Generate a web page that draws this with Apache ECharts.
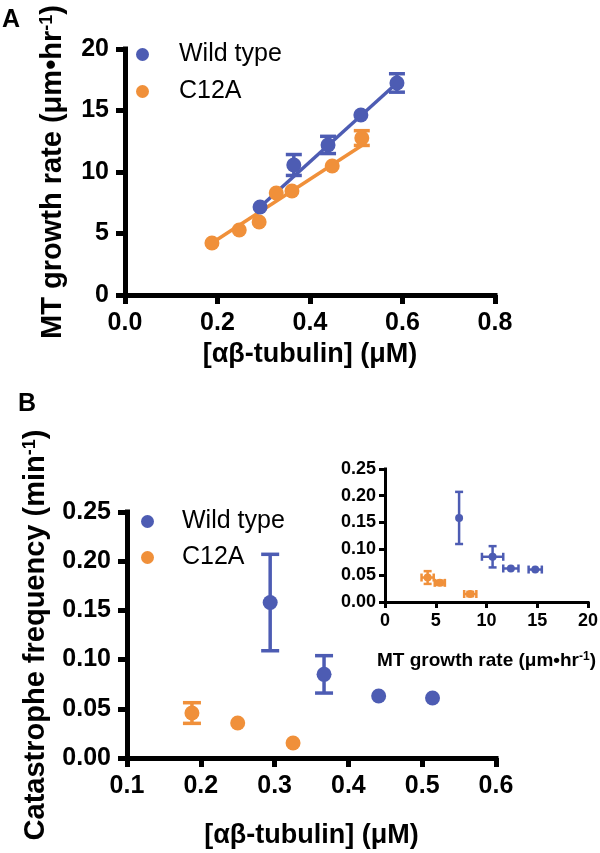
<!DOCTYPE html>
<html><head><meta charset="utf-8">
<script src="https://cdn.jsdelivr.net/npm/echarts@6/dist/echarts.min.js"></script>
<style>html,body{margin:0;padding:0;background:#fff}#c{width:600px;height:853px}</style>
</head><body><div id="c"></div>
<script>
// ---------- Panel A: growth rate vs tubulin ----------
const wtConcA = [0.292, 0.365, 0.439, 0.51, 0.588];
const wtRateA = [7.15, 10.57, 12.2, 14.63, 17.24];
const wtRateErrA = [0, 0.85, 0.7, 0, 0.75];
const c12ConcA = [0.188, 0.247, 0.29, 0.327, 0.361, 0.448, 0.512];
const c12RateA = [4.23, 5.28, 5.93, 8.29, 8.46, 10.49, 12.76];
const c12RateErrA = [0, 0, 0, 0, 0, 0, 0.6];
const wtFitConc = [0.292, 0.588];
const wtFitRate = [7.15, 17.24];
const c12FitConc = [0.188, 0.512];
const c12FitRate = [4.23, 12.15];
const xTicksA = [0, 0.2, 0.4, 0.6, 0.8];
const yTicksA = [0, 5, 10, 15, 20];

// ---------- Panel B: catastrophe frequency vs tubulin ----------
const wtConcB = [0.294, 0.367, 0.441, 0.514];
const wtCatB = [0.158, 0.085, 0.063, 0.061];
const wtCatErrB = [0.049, 0.019, 0, 0];
const c12ConcB = [0.188, 0.25, 0.325];
const c12CatB = [0.0457, 0.0356, 0.0152];
const c12CatErrB = [0.0105, 0, 0];
const xTicksB = [0.1, 0.2, 0.3, 0.4, 0.5, 0.6];
const yTicksB = [0, 0.05, 0.10, 0.15, 0.20, 0.25];

// ---------- Inset: catastrophe frequency vs growth rate ----------
const wtRateIn = [7.3, 10.6, 12.4, 14.8];
const wtRateErrIn = [0, 1.05, 0.75, 0.65];
const wtCatIn = [0.158, 0.085, 0.063, 0.061];
const wtCatErrIn = [0.049, 0.02, 0, 0];
const c12RateIn = [4.2, 5.4, 8.4];
const c12RateErrIn = [0.6, 0.5, 0.6];
const c12CatIn = [0.046, 0.036, 0.015];
const c12CatErrIn = [0.012, 0.004, 0.004];
const xTicksIn = [0, 5, 10, 15, 20];
const yTicksIn = [0, 0.05, 0.10, 0.15, 0.20, 0.25];

const BLUE = '#4d5cb3';
const ORANGE = '#f0903a';
const FONT = '"Liberation Sans", Arial, Helvetica, sans-serif';

function zip(a, b) { return a.map((v, i) => [v, b[i]]); }
function zip4(a, b, c, d) { return a.map((v, i) => [v, b[i], c[i], d[i]]); }
function zeros(a) { return a.map(() => 0); }

function errRender(color, capHalf, lw) {
  return function (params, api) {
    const x = api.value(0), y = api.value(1), ex = api.value(2), ey = api.value(3);
    const st = { stroke: color, lineWidth: lw };
    const ch = [];
    if (ey > 0) {
      const a = api.coord([x, y + ey]), b = api.coord([x, y - ey]);
      ch.push({ type: 'line', shape: { x1: a[0], y1: a[1], x2: b[0], y2: b[1] }, style: st });
      ch.push({ type: 'line', shape: { x1: a[0] - capHalf, y1: a[1], x2: a[0] + capHalf, y2: a[1] }, style: st });
      ch.push({ type: 'line', shape: { x1: b[0] - capHalf, y1: b[1], x2: b[0] + capHalf, y2: b[1] }, style: st });
    }
    if (ex > 0) {
      const a = api.coord([x - ex, y]), b = api.coord([x + ex, y]);
      ch.push({ type: 'line', shape: { x1: a[0], y1: a[1], x2: b[0], y2: b[1] }, style: st });
      ch.push({ type: 'line', shape: { x1: a[0], y1: a[1] - capHalf, x2: a[0], y2: a[1] + capHalf }, style: st });
      ch.push({ type: 'line', shape: { x1: b[0], y1: b[1] - capHalf, x2: b[0], y2: b[1] + capHalf }, style: st });
    }
    return { type: 'group', children: ch };
  };
}

function nameRich(big, small) {
  return {
    color: '#000', fontFamily: FONT, fontSize: big, fontWeight: 'bold',
    rich: {
      t: { fontSize: big, fontWeight: 'bold', color: '#000', fontFamily: FONT, lineHeight: big },
      s: { fontSize: small, fontWeight: 'bold', color: '#000', fontFamily: FONT, verticalAlign: 'top', lineHeight: big }
    }
  };
}

function valAxis(o) {
  const ticks = o.ticks;
  return {
    type: 'value', gridIndex: o.grid,
    min: ticks[0], max: ticks[ticks.length - 1], interval: ticks[1] - ticks[0],
    splitLine: { show: false },
    axisLine: { onZero: false, lineStyle: { color: '#000', width: o.lw, cap: 'square' } },
    axisTick: { length: o.tick, lineStyle: { color: '#000', width: o.lw } },
    axisLabel: {
      color: '#000', fontFamily: FONT, fontWeight: 'bold', fontSize: o.fs, margin: o.margin,
      showMinLabel: true, showMaxLabel: true,
      formatter: v => v.toFixed(o.dec)
    },
    name: o.name, nameLocation: 'middle', nameGap: o.nameGap,
    nameTextStyle: o.nameStyle
  };
}

const option = {
  animation: false,
  backgroundColor: '#fff',
  textStyle: { fontFamily: FONT },
  grid: [
    { left: 125, top: 49, width: 370, height: 246, outerBoundsMode: 'none' },
    { left: 127, top: 512, width: 369, height: 246, outerBoundsMode: 'none' },
    { left: 385, top: 469, width: 203, height: 133, outerBoundsMode: 'none' }
  ],
  xAxis: [
    valAxis({ grid: 0, ticks: xTicksA, lw: 5, tick: 9, fs: 25, margin: 16, dec: 1,
      name: '[αβ-tubulin] (μM)', nameGap: 46, nameStyle: { color: '#000', fontFamily: FONT, fontSize: 27, fontWeight: 'bold', verticalAlign: 'top' } }),
    valAxis({ grid: 1, ticks: xTicksB, lw: 5, tick: 9, fs: 25, margin: 16, dec: 1,
      name: '[αβ-tubulin] (μM)', nameGap: 64, nameStyle: { color: '#000', fontFamily: FONT, fontSize: 27, fontWeight: 'bold', verticalAlign: 'top' } }),
    valAxis({ grid: 2, ticks: xTicksIn, lw: 3, tick: 6, fs: 18, margin: 10, dec: 0,
      name: '{t|MT growth rate (μm•hr}{s|-1}{t|)}', nameGap: 49, nameStyle: nameRich(19, 12) })
  ],
  yAxis: [
    valAxis({ grid: 0, ticks: yTicksA, lw: 5, tick: 9, fs: 25, margin: 16, dec: 0,
      name: '{t|MT growth rate (μm•hr}{s|-1}{t|)}', nameGap: 58, nameStyle: nameRich(29, 18) }),
    valAxis({ grid: 1, ticks: yTicksB, lw: 5, tick: 9, fs: 25, margin: 16, dec: 2,
      name: '{t|Catastrophe frequency (min}{s|-1}{t|)}', nameGap: 77, nameStyle: nameRich(29, 18) }),
    valAxis({ grid: 2, ticks: yTicksIn, lw: 3, tick: 6, fs: 18, margin: 9, dec: 2,
      name: '', nameGap: 0, nameStyle: {} })
  ],
  legend: [
    { data: ['Wild type', 'C12A'], orient: 'vertical', left: 136, top: 42, padding: 0,
      itemWidth: 13, itemHeight: 13, itemGap: 12, icon: 'circle', selectedMode: false,
      textStyle: { fontSize: 25, color: '#000', fontFamily: FONT, padding: [0, 0, 0, 25] } },
    { data: ['Wild type', 'C12A'], orient: 'vertical', left: 141, top: 509, padding: 0,
      itemWidth: 13, itemHeight: 13, itemGap: 11, icon: 'circle', selectedMode: false,
      textStyle: { fontSize: 25, color: '#000', fontFamily: FONT, padding: [0, 0, 0, 23] } }
  ],
  graphic: [
    { type: 'text', left: 2, top: 8, style: { text: 'A', font: 'bold 25px ' + FONT, fill: '#000' } },
    { type: 'text', left: 18, top: 392, style: { text: 'B', font: 'bold 25px ' + FONT, fill: '#000' } }
  ],
  series: [
    // Panel A
    { name: 'wtFit', type: 'line', xAxisIndex: 0, yAxisIndex: 0, data: zip(wtFitConc, wtFitRate),
      symbol: 'none', lineStyle: { color: BLUE, width: 3.5 }, z: 2 },
    { name: 'c12Fit', type: 'line', xAxisIndex: 0, yAxisIndex: 0, data: zip(c12FitConc, c12FitRate),
      symbol: 'none', lineStyle: { color: ORANGE, width: 3.5 }, z: 2 },
    { name: 'wtErrA', type: 'custom', xAxisIndex: 0, yAxisIndex: 0, renderItem: errRender(BLUE, 8, 3.5),
      data: zip4(wtConcA, wtRateA, zeros(wtConcA), wtRateErrA), z: 3 },
    { name: 'c12ErrA', type: 'custom', xAxisIndex: 0, yAxisIndex: 0, renderItem: errRender(ORANGE, 8, 3.5),
      data: zip4(c12ConcA, c12RateA, zeros(c12ConcA), c12RateErrA), z: 3 },
    { name: 'C12A', type: 'scatter', xAxisIndex: 0, yAxisIndex: 0, data: zip(c12ConcA, c12RateA),
      symbolSize: 15, itemStyle: { color: ORANGE, opacity: 1 }, z: 4 },
    { name: 'Wild type', type: 'scatter', xAxisIndex: 0, yAxisIndex: 0, data: zip(wtConcA, wtRateA),
      symbolSize: 15, itemStyle: { color: BLUE, opacity: 1 }, z: 5 },
    // Panel B
    { name: 'wtErrB', type: 'custom', xAxisIndex: 1, yAxisIndex: 1, renderItem: errRender(BLUE, 9, 3.5),
      data: zip4(wtConcB, wtCatB, zeros(wtConcB), wtCatErrB), z: 3 },
    { name: 'c12ErrB', type: 'custom', xAxisIndex: 1, yAxisIndex: 1, renderItem: errRender(ORANGE, 9, 3.5),
      data: zip4(c12ConcB, c12CatB, zeros(c12ConcB), c12CatErrB), z: 3 },
    { name: 'Wild type', type: 'scatter', xAxisIndex: 1, yAxisIndex: 1, data: zip(wtConcB, wtCatB),
      symbolSize: 15, itemStyle: { color: BLUE, opacity: 1 }, z: 4 },
    { name: 'C12A', type: 'scatter', xAxisIndex: 1, yAxisIndex: 1, data: zip(c12ConcB, c12CatB),
      symbolSize: 15, itemStyle: { color: ORANGE, opacity: 1 }, z: 4 },
    // Inset
    { name: 'wtErrIn', type: 'custom', xAxisIndex: 2, yAxisIndex: 2, renderItem: errRender(BLUE, 4, 2.5),
      data: zip4(wtRateIn, wtCatIn, wtRateErrIn, wtCatErrIn), z: 3 },
    { name: 'c12ErrIn', type: 'custom', xAxisIndex: 2, yAxisIndex: 2, renderItem: errRender(ORANGE, 4, 2.5),
      data: zip4(c12RateIn, c12CatIn, c12RateErrIn, c12CatErrIn), z: 3 },
    { name: 'Wild type', type: 'scatter', xAxisIndex: 2, yAxisIndex: 2, data: zip(wtRateIn, wtCatIn),
      symbolSize: 8, itemStyle: { color: BLUE, opacity: 1 }, z: 4 },
    { name: 'C12A', type: 'scatter', xAxisIndex: 2, yAxisIndex: 2, data: zip(c12RateIn, c12CatIn),
      symbolSize: 8, itemStyle: { color: ORANGE, opacity: 1 }, z: 4 }
  ]
};

const chart = echarts.init(document.getElementById('c'), null, { renderer: 'canvas' });
chart.setOption(option);
</script>
</body></html>
